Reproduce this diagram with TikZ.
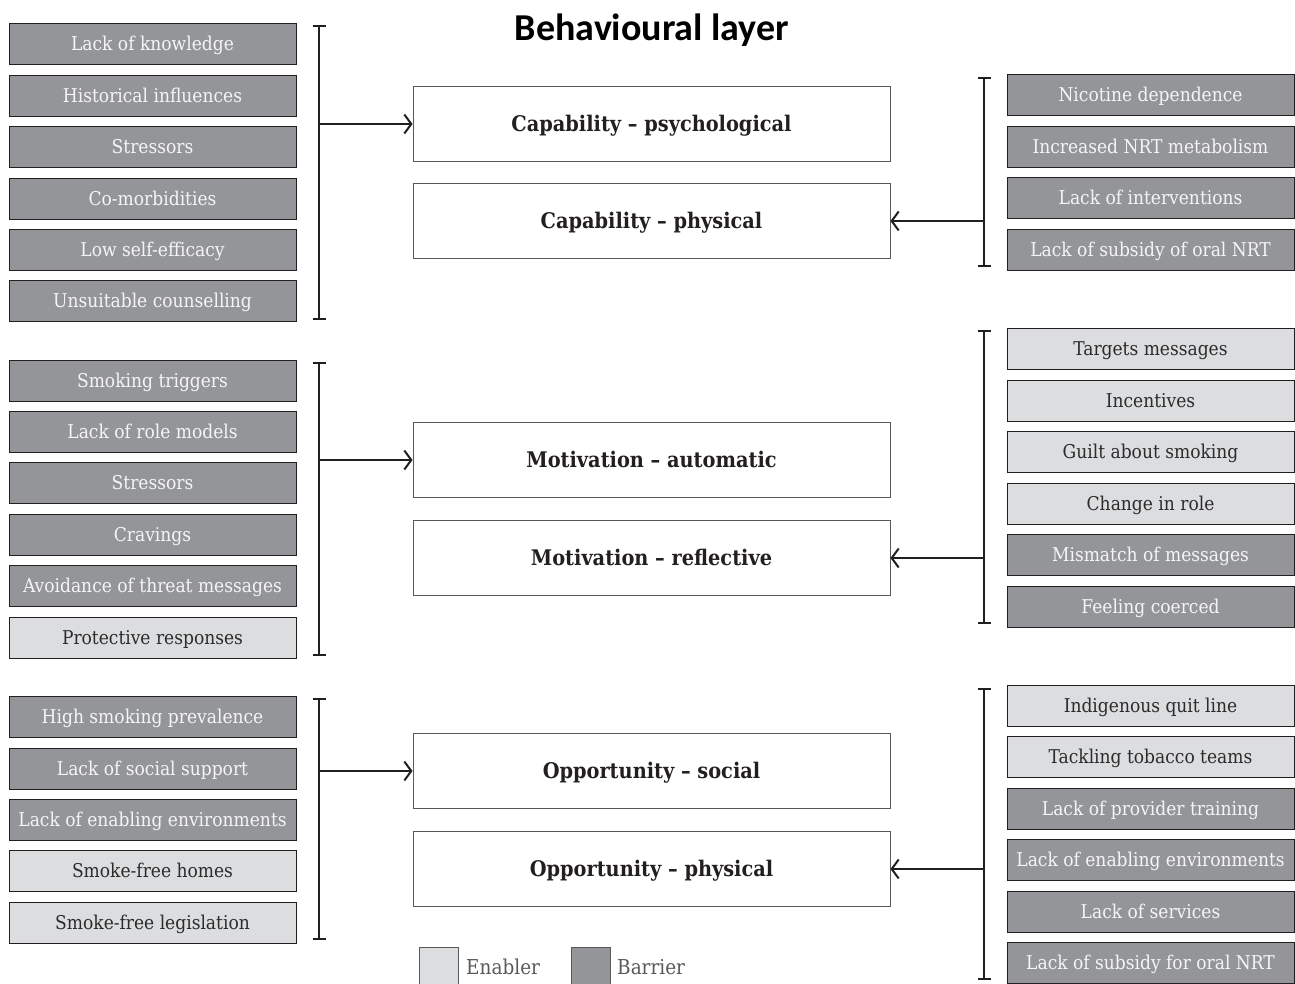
\documentclass[tikz,border=0pt]{standalone}
\usepackage{fontspec}
\setmainfont{DejaVu Serif Condensed}
\newfontfamily\titlefont{Carlito}[BoldFont={* Bold}]
\usetikzlibrary{arrows.meta}

\definecolor{barfill}{HTML}{939598}
\definecolor{enfill}{HTML}{DCDDDF}
\definecolor{boxline}{HTML}{231F20}
\definecolor{bartext}{HTML}{F5F5F5}
\definecolor{entext}{HTML}{2B2B2B}
\definecolor{cline}{HTML}{58595B}

\tikzset{
  factor/.style={draw=boxline, line width=0.9pt, minimum width=287pt, minimum height=41pt,
    inner sep=0pt, text height=13.9pt, text depth=0pt, font=\fontsize{19}{20}\selectfont},
  barrier/.style={factor, fill=barfill, text=bartext},
  enabler/.style={factor, fill=enfill, text=entext},
  cbox/.style={draw=cline, line width=0.9pt, fill=white, minimum width=477pt, minimum height=75pt,
    inner sep=0pt, text height=15.7pt, text depth=0pt,
    font=\fontsize{21.5}{23}\selectfont\bfseries, text=boxline},
  bracket/.style={draw=boxline, line width=2.4pt, {Bar[width=13pt,line width=2.4pt]}-{Bar[width=13pt,line width=2.4pt]}},
  arr/.style={draw=boxline, line width=2pt, -{Straight Barb[length=7pt,width=19pt,line width=2pt]}},
  key/.style={draw=cline, line width=0.9pt, minimum width=39pt, minimum height=39pt, inner sep=0pt},
  keytext/.style={anchor=base west, inner sep=0pt, text=cline, font=\fontsize{20.5}{22}\selectfont}
}

\begin{document}
\begin{tikzpicture}[x=1pt, y=-1pt]
\useasboundingbox (0,0) rectangle (1295,983);

% title
\node (title) at (652,30) {\titlefont\bfseries\fontsize{38}{42}\selectfont Behavioural layer};

% central COM-B boxes
\node[cbox] (cpsy) at (651.5,124) {Capability -- psychological};
\node[cbox] (cphy) at (651.5,221) {Capability -- physical};
\node[cbox] (mauto) at (651.5,460) {Motivation -- automatic};
\node[cbox] (mrefl) at (651.5,558) {Motivation -- reflective};
\node[cbox] (osoc) at (651.5,771) {Opportunity -- social};
\node[cbox] (ophy) at (651.5,869) {Opportunity -- physical};

% left column, capability
\node[barrier] (l11) at (152.5,44) {Lack of knowledge};
\node[barrier] (l12) at (152.5,95.5) {Historical influences};
\node[barrier] (l13) at (152.5,147) {Stressors};
\node[barrier] (l14) at (152.5,198.5) {Co-morbidities};
\node[barrier] (l15) at (152.5,250) {Low self-efficacy};
\node[barrier] (l16) at (152.5,301) {Unsuitable counselling};

% right column, capability
\node[barrier] (r11) at (1150.5,95) {Nicotine dependence};
\node[barrier] (r12) at (1150.5,146.5) {Increased NRT metabolism};
\node[barrier] (r13) at (1150.5,198) {Lack of interventions};
\node[barrier] (r14) at (1150.5,249.5) {Lack of subsidy of oral NRT};

% left column, motivation
\node[barrier] (l21) at (152.5,381) {Smoking triggers};
\node[barrier] (l22) at (152.5,432) {Lack of role models};
\node[barrier] (l23) at (152.5,483) {Stressors};
\node[barrier] (l24) at (152.5,535) {Cravings};
\node[barrier] (l25) at (152.5,586) {Avoidance of threat messages};
\node[enabler] (l26) at (152.5,637.5) {Protective responses};

% right column, motivation
\node[enabler] (r21) at (1150.5,349) {Targets messages};
\node[enabler] (r22) at (1150.5,400.5) {Incentives};
\node[enabler] (r23) at (1150.5,452) {Guilt about smoking};
\node[enabler] (r24) at (1150.5,503.5) {Change in role};
\node[barrier] (r25) at (1150.5,555) {Mismatch of messages};
\node[barrier] (r26) at (1150.5,606.5) {Feeling coerced};

% left column, opportunity
\node[barrier] (l31) at (152.5,717) {High smoking prevalence};
\node[barrier] (l32) at (152.5,768.5) {Lack of social support};
\node[barrier] (l33) at (152.5,820) {Lack of enabling environments};
\node[enabler] (l34) at (152.5,871) {Smoke-free homes};
\node[enabler] (l35) at (152.5,922.5) {Smoke-free legislation};

% right column, opportunity
\node[enabler] (r31) at (1150.5,705.5) {Indigenous quit line};
\node[enabler] (r32) at (1150.5,757) {Tackling tobacco teams};
\node[barrier] (r33) at (1150.5,808.5) {Lack of provider training};
\node[barrier] (r34) at (1150.5,860) {Lack of enabling environments};
\node[barrier] (r35) at (1150.5,911.5) {Lack of services};
\node[barrier] (r36) at (1150.5,963) {Lack of subsidy for oral NRT};

% brackets gathering each column
\coordinate (lb1t) at (319,25);  \coordinate (lb1b) at (319,320);
\coordinate (lb2t) at (319,362); \coordinate (lb2b) at (319,656);
\coordinate (lb3t) at (319,698); \coordinate (lb3b) at (319,940);
\coordinate (rb1t) at (984,77);  \coordinate (rb1b) at (984,267);
\coordinate (rb2t) at (984,330); \coordinate (rb2b) at (984,624);
\coordinate (rb3t) at (984,688); \coordinate (rb3b) at (984,980);
\draw[bracket] (lb1t) -- (lb1b);
\draw[bracket] (lb2t) -- (lb2b);
\draw[bracket] (lb3t) -- (lb3b);
\draw[bracket] (rb1t) -- (rb1b);
\draw[bracket] (rb2t) -- (rb2b);
\draw[bracket] (rb3t) -- (rb3b);

% arrows from brackets to the central boxes
\coordinate (la1) at (319,124); \coordinate (la2) at (319,460); \coordinate (la3) at (319,771);
\coordinate (ra1) at (984,221); \coordinate (ra2) at (984,558); \coordinate (ra3) at (984,869);
\draw[arr] (la1) -- (cpsy.west);
\draw[arr] (la2) -- (mauto.west);
\draw[arr] (la3) -- (osoc.west);
\draw[arr] (ra1) -- (cphy.east);
\draw[arr] (ra2) -- (mrefl.east);
\draw[arr] (ra3) -- (ophy.east);

% legend
\node[key, fill=enfill] (kenab) at (438.5,966.5) {};
\node[keytext] (tenab) at (466,974) {Enabler};
\node[key, fill=barfill] (kbarr) at (590.5,966.5) {};
\node[keytext] (tbarr) at (617,974) {Barrier};
\end{tikzpicture}
\end{document}
